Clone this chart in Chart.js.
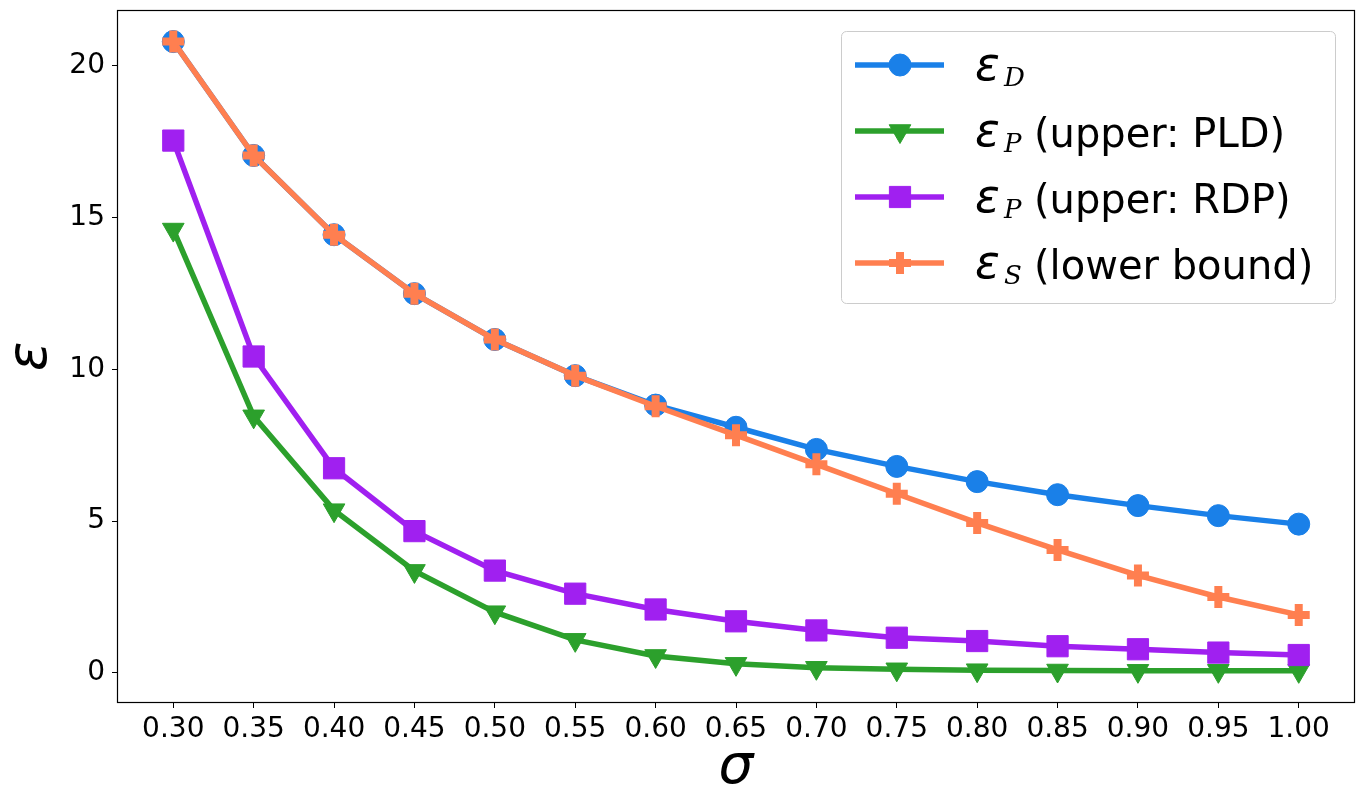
<!DOCTYPE html>
<html>
<head>
<meta charset="utf-8">
<script src="https://cdn.jsdelivr.net/npm/chart.js@4.4.1/dist/chart.umd.min.js"></script>
<style>
  html, body { margin: 0; padding: 0; background: #fff; }
  canvas { display: block; }
</style>
</head>
<body>
<canvas id="epsChart" width="1366" height="810"></canvas>
<script>
// sigma values (x) and the tick marks shown on each axis
const sigma = [0.30, 0.35, 0.40, 0.45, 0.50, 0.55, 0.60, 0.65, 0.70, 0.75, 0.80, 0.85, 0.90, 0.95, 1.00];
const xTicks = [0.30, 0.35, 0.40, 0.45, 0.50, 0.55, 0.60, 0.65, 0.70, 0.75, 0.80, 0.85, 0.90, 0.95, 1.00];
const yTicks = [0, 5, 10, 15, 20];

// epsilon curves
const epsD   = [20.79, 17.04, 14.43, 12.49, 10.98, 9.79, 8.82, 8.09, 7.36, 6.80, 6.30, 5.87, 5.51, 5.18, 4.90];
const epsPLD = [14.60, 8.45, 5.36, 3.36, 2.00, 1.09, 0.56, 0.30, 0.17, 0.12, 0.09, 0.08, 0.07, 0.07, 0.07];
const epsRDP = [17.53, 10.42, 6.74, 4.67, 3.37, 2.61, 2.09, 1.70, 1.40, 1.16, 1.05, 0.88, 0.78, 0.67, 0.59];
const epsS   = [20.79, 17.04, 14.43, 12.49, 10.98, 9.79, 8.78, 7.83, 6.87, 5.90, 4.94, 4.05, 3.21, 2.50, 1.91];

// legend: epsilon, subscript letter, rest of the label
const legendSub  = ['D', 'P', 'P', 'S'];
const legendRest = ['', '(upper: PLD)', '(upper: RDP)', '(lower bound)'];

const BLUE = '#1a80e8', GREEN = '#2ca02c', PURPLE = '#a020f0', CORAL = '#ff7f50';

function pts(ys) {
    return ys.map((y, i) => ({ x: sigma[i], y: y }));
}

const markers = [
    { pointStyle: 'circle',   radius: 11,   rotation: 0,   borderWidth: 1 },
    { pointStyle: 'triangle', radius: 12.5, rotation: 180, borderWidth: 1 },
    { pointStyle: 'rect',     radius: 15,   rotation: 0,   borderWidth: 1 },
    { pointStyle: 'cross',    radius: 11,   rotation: 0,   borderWidth: 8 }
];
const colors = [BLUE, GREEN, PURPLE, CORAL];
const series = [epsD, epsPLD, epsRDP, epsS];

const framePlugin = {
    id: 'frame',
    beforeDraw(chart) {
        const ctx = chart.ctx;
        ctx.save();
        ctx.fillStyle = '#fff';
        ctx.fillRect(0, 0, chart.width, chart.height);
        ctx.restore();
    },
    afterDraw(chart) {
        const ctx = chart.ctx;
        const a = chart.chartArea;
        ctx.save();
        ctx.strokeStyle = '#000';
        ctx.lineWidth = 1.2;
        ctx.strokeRect(Math.round(a.left) + 0.5, Math.round(a.top) + 0.5,
                       Math.round(a.right - a.left) - 1, Math.round(a.bottom - a.top) - 1);

        // legend box
        const bx = 841.5, by = 31.5, bw = 494, bh = 272;
        ctx.beginPath();
        ctx.roundRect(bx, by, bw, bh, 5);
        ctx.fillStyle = 'rgba(255,255,255,0.8)';
        ctx.fill();
        ctx.lineWidth = 1;
        ctx.strokeStyle = '#cccccc';
        ctx.stroke();

        const rows = [65, 131, 197, 263];
        for (let i = 0; i < 4; i++) {
            const y = rows[i];
            ctx.strokeStyle = colors[i];
            ctx.fillStyle = colors[i];
            ctx.lineWidth = 5.5;
            ctx.beginPath();
            ctx.moveTo(855, y);
            ctx.lineTo(944, y);
            ctx.stroke();
            ctx.lineWidth = markers[i].borderWidth;
            Chart.helpers.drawPoint(ctx, markers[i], 900, y);

            ctx.fillStyle = '#000';
            ctx.textBaseline = 'alphabetic';
            ctx.textAlign = 'left';
            ctx.font = 'italic 46px "DejaVu Sans"';
            ctx.fillText('ε', 975, y + 15);
            ctx.font = 'italic 26px "DejaVu Serif"';
            ctx.fillText(legendSub[i], 1004, y + 21);
            ctx.font = '40px "DejaVu Sans"';
            ctx.fillText(legendRest[i], 1034, y + 16);
        }
        ctx.restore();
    }
};

const datasets = series.map((ys, i) => ({
    label: 'eps' + i,
    data: pts(ys),
    borderColor: colors[i],
    backgroundColor: colors[i],
    pointBackgroundColor: colors[i],
    pointBorderColor: colors[i],
    borderWidth: 5.5,
    pointStyle: markers[i].pointStyle,
    pointRadius: markers[i].radius,
    pointRotation: markers[i].rotation,
    pointBorderWidth: markers[i].borderWidth,
    pointHoverRadius: markers[i].radius,
    tension: 0,
    fill: false,
    order: 4 - i
}));

const tickFont = { family: '"DejaVu Sans"', size: 28 };

new Chart(document.getElementById('epsChart').getContext('2d'), {
    type: 'line',
    data: { datasets: datasets },
    options: {
        responsive: false,
        animation: false,
        devicePixelRatio: 1,
        layout: { autoPadding: false, padding: { top: 10, right: 11, left: 0, bottom: 0 } },
        scales: {
            x: {
                type: 'linear',
                min: 0.265,
                max: 1.035,
                afterBuildTicks: (scale) => { scale.ticks = xTicks.map(v => ({ value: v })); },
                afterFit: (scale) => {
                    scale.height = 107;
                    scale.paddingLeft = 0;
                    scale.paddingRight = 0;
                },
                grid: { drawOnChartArea: false, drawTicks: true, tickLength: 5, color: '#000', lineWidth: 1 },
                border: { display: false },
                ticks: {
                    autoSkip: false, maxRotation: 0, minRotation: 0, padding: 5,
                    color: '#000', font: tickFont,
                    callback: (v) => Number(v).toFixed(2)
                },
                title: {
                    display: true, text: 'σ', color: '#000',
                    font: { family: '"DejaVu Sans"', size: 55, style: 'italic', lineHeight: 1 },
                    padding: { top: 0, bottom: 14 }
                }
            },
            y: {
                min: -0.99,
                max: 21.83,
                afterBuildTicks: (scale) => { scale.ticks = yTicks.map(v => ({ value: v })); },
                afterFit: (scale) => {
                    scale.width = 117;
                    scale.paddingTop = 0;
                    scale.paddingBottom = 0;
                },
                grid: { drawOnChartArea: false, drawTicks: true, tickLength: 5, color: '#000', lineWidth: 1 },
                border: { display: false },
                ticks: {
                    padding: 7, color: '#000', font: tickFont,
                    callback: (v) => String(v)
                },
                title: {
                    display: true, text: 'ε', color: '#000',
                    font: { family: '"DejaVu Sans"', size: 55, style: 'italic', lineHeight: 1 },
                    padding: { top: 4, bottom: 0 }
                }
            }
        },
        plugins: {
            legend: { display: false },
            tooltip: { enabled: false }
        }
    },
    plugins: [framePlugin]
});
</script>
</body>
</html>
